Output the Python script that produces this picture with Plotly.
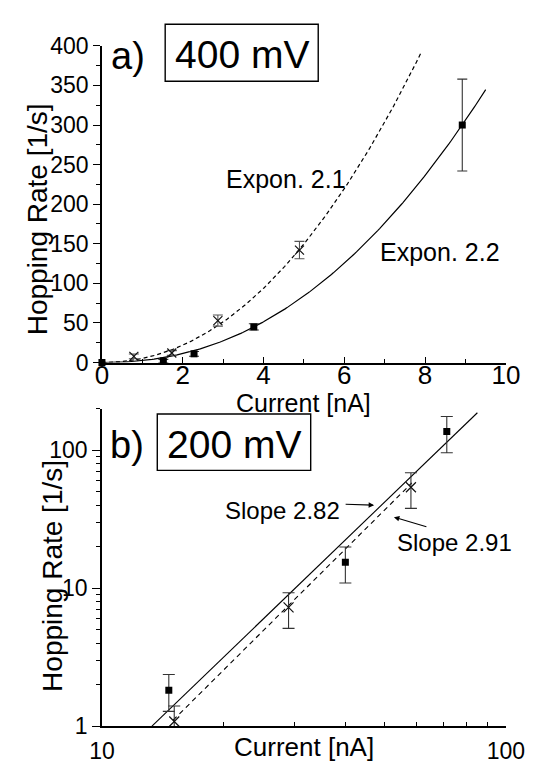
import numpy as np
import plotly.graph_objects as go

W, H = 544, 772
FONT = "Liberation Sans, Arial, sans-serif"

# ---------------- data: panel a) 400 mV (linear) ----------------
a_sq_x = [0.0, 1.52, 2.28, 3.76, 8.92]
a_sq_y = [0.0, 2.0, 11.0, 45.0, 300.0]
a_sq_err = [0.0, 2.0, 3.0, 4.0, 58.0]

a_x_x = [0.79, 1.73, 2.87, 4.89]
a_x_y = [7.7, 12.0, 53.0, 142.0]
a_x_err = [3.0, 3.0, 7.0, 11.0]

# power-law fits  y = A * x^expon
fit_a_solid = dict(A=2.435, expon=2.2, xmax=9.5, label="Expon. 2.2")
fit_a_dash = dict(A=5.1, expon=2.1, xmax=7.9, label="Expon. 2.1")

a_xticks = [0, 2, 4, 6, 8, 10]
a_yticks = [0, 50, 100, 150, 200, 250, 300, 350, 400]

# ---------------- data: panel b) 200 mV (log-log) ----------------
b_sq_x = [14.64, 40.05, 71.4]
b_sq_y = [1.82, 15.4, 136.8]
b_sq_err_plus = [0.55, 4.5, 39.0]
b_sq_err_minus = [0.54, 4.5, 41.0]

b_x_x = [15.1, 28.97, 58.2]
b_x_y = [1.08, 7.26, 53.9]
b_x_err_plus = [0.32, 2.0, 14.7]
b_x_err_minus = [0.30, 2.15, 16.0]

# straight lines in log-log: y = (x / x0)^slope
fit_b_solid = dict(x0=13.3, slope=2.82, xmin=13.3, xmax=85.0, label="Slope 2.82")
fit_b_dash = dict(x0=14.5, slope=2.91, xmin=15.0, xmax=58.5, label="Slope 2.91")

b_xticks = [10, 100]
b_yticks = [1, 10, 100]


def px(x):
    return x / W


def py(y):
    return 1 - y / H


fig = go.Figure()

# ---- panel a traces ----
xs = np.linspace(0, fit_a_solid["xmax"], 200)
fig.add_trace(go.Scatter(x=xs, y=fit_a_solid["A"] * xs ** fit_a_solid["expon"], mode="lines",
                         line=dict(color="black", width=1.2), xaxis="x", yaxis="y",
                         showlegend=False, hoverinfo="skip"))
xs = np.linspace(0, fit_a_dash["xmax"], 200)
fig.add_trace(go.Scatter(x=xs, y=fit_a_dash["A"] * xs ** fit_a_dash["expon"], mode="lines",
                         line=dict(color="black", width=1.2, dash="4px,3px"), xaxis="x", yaxis="y",
                         showlegend=False, hoverinfo="skip"))
fig.add_trace(go.Scatter(x=a_x_x, y=a_x_y, mode="markers", xaxis="x", yaxis="y",
                         marker=dict(symbol="x-thin-open", size=9, color="#111",
                                     line=dict(color="#111", width=1.2)),
                         error_y=dict(type="data", array=a_x_err, color="#555", thickness=1.1, width=5),
                         cliponaxis=False, showlegend=False))
fig.add_trace(go.Scatter(x=a_sq_x, y=a_sq_y, mode="markers", xaxis="x", yaxis="y",
                         marker=dict(symbol="square", size=7, color="black"),
                         error_y=dict(type="data", array=a_sq_err, color="#333", thickness=1.1, width=5),
                         cliponaxis=False, showlegend=False))

# ---- panel b traces ----
xs = np.logspace(np.log10(fit_b_solid["xmin"]), np.log10(fit_b_solid["xmax"]), 50)
fig.add_trace(go.Scatter(x=xs, y=(xs / fit_b_solid["x0"]) ** fit_b_solid["slope"], mode="lines",
                         line=dict(color="black", width=1.1), xaxis="x2", yaxis="y2",
                         showlegend=False, hoverinfo="skip"))
xs = np.logspace(np.log10(fit_b_dash["xmin"]), np.log10(fit_b_dash["xmax"]), 50)
fig.add_trace(go.Scatter(x=xs, y=(xs / fit_b_dash["x0"]) ** fit_b_dash["slope"], mode="lines",
                         line=dict(color="black", width=1.1, dash="5px,4px"), xaxis="x2", yaxis="y2",
                         showlegend=False, hoverinfo="skip"))
fig.add_trace(go.Scatter(x=b_x_x, y=b_x_y, mode="markers", xaxis="x2", yaxis="y2",
                         marker=dict(symbol="x-thin-open", size=10, color="#111",
                                     line=dict(color="#111", width=1.2)),
                         error_y=dict(type="data", symmetric=False, array=b_x_err_plus,
                                      arrayminus=b_x_err_minus, color="#333", thickness=1.1, width=6),
                         showlegend=False))
fig.add_trace(go.Scatter(x=b_sq_x, y=b_sq_y, mode="markers", xaxis="x2", yaxis="y2",
                         marker=dict(symbol="square", size=7, color="black"),
                         error_y=dict(type="data", symmetric=False, array=b_sq_err_plus,
                                      arrayminus=b_sq_err_minus, color="#333", thickness=1.1, width=6),
                         showlegend=False))

XDOM = [px(94.5), px(523.7)]
axis_common = dict(showline=True, linecolor="black", linewidth=1.5, showgrid=False,
                   zeroline=False, tickcolor="black", tickwidth=1.3)

fig.update_layout(
    width=W, height=H, margin=dict(l=0, r=0, t=0, b=0),
    paper_bgcolor="white", plot_bgcolor="white",
    font=dict(family=FONT, color="black"),
    xaxis=dict(domain=XDOM, anchor="y", range=[0, 10], tickmode="array", tickvals=a_xticks,
               ticks="inside", ticklen=6, tickfont=dict(size=26, family=FONT),
               ticklabelstandoff=-11,
               minor=dict(ticks="inside", ticklen=4, dtick=1, tick0=0, tickcolor="black"),
               **axis_common),
    yaxis=dict(domain=[py(361.7), py(34)], anchor="x", range=[0, 400], tickmode="array",
               tickvals=a_yticks, ticks="outside", ticklen=7, tickfont=dict(size=23, family=FONT),
               minor=dict(ticks="outside", ticklen=4, dtick=25, tick0=0, tickcolor="black"),
               **axis_common),
    xaxis2=dict(domain=XDOM, anchor="y2", type="log", range=[1, 2], tickmode="array",
                tickvals=b_xticks, ticktext=[str(v) for v in b_xticks],
                ticks="inside", ticklen=6, tickfont=dict(size=23, family=FONT),
                ticklabelstandoff=4,
                minor=dict(ticks="inside", ticklen=4, tickmode="array",
                           tickvals=[20, 30, 40, 50, 60, 70, 80, 90], tickcolor="black"),
                **axis_common),
    yaxis2=dict(domain=[py(738), py(409.5)], anchor="x2", type="log", range=[0, np.log10(200)],
                tickmode="array", tickvals=b_yticks, ticktext=[str(v) for v in b_yticks],
                ticks="outside", ticklen=8, tickfont=dict(size=23, family=FONT),
                minor=dict(ticks="outside", ticklen=4, tickmode="array",
                           tickvals=[2, 3, 4, 5, 6, 7, 8, 9, 20, 30, 40, 50, 60, 70, 80, 90, 200],
                           tickcolor="black"),
                **axis_common),
)


def txt(x, y, s, size, angle=0):
    fig.add_annotation(x=px(x), y=py(y), xref="paper", yref="paper", text=s, showarrow=False,
                       xanchor="center", yanchor="middle", textangle=angle,
                       font=dict(size=size, family=FONT, color="black"))


# panel labels and boxes
txt(122, 45, "a)", 38)
fig.add_shape(type="rect", xref="paper", yref="paper", x0=px(161.7), x1=px(324.3),
              y0=py(70.7), y1=py(11.7), line=dict(color="black", width=1.4))
txt(243, 43, "400 mV", 39)

txt(121, 447, "b)", 38)
fig.add_shape(type="rect", xref="paper", yref="paper", x0=px(153.3), x1=px(316.3),
              y0=py(473.3), y1=py(415), line=dict(color="black", width=1.4))
txt(235, 447, "200 mV", 39)

# fit labels
txt(290, 172, fit_a_dash["label"], 25)
txt(454, 247, fit_a_solid["label"], 25)
txt(286, 515, fit_b_solid["label"], 24)
txt(469.5, 548, fit_b_dash["label"], 24)

# arrows
fig.add_annotation(x=px(383.7), y=py(509.3), xref="paper", yref="paper", ax=-30, ay=-1,
                   text="", showarrow=True, arrowhead=2, arrowsize=1, arrowwidth=1.1, arrowcolor="black")
fig.add_annotation(x=px(404.7), y=py(521.7), xref="paper", yref="paper", ax=34, ay=10,
                   text="", showarrow=True, arrowhead=2, arrowsize=1, arrowwidth=1.1, arrowcolor="black")

# axis titles
txt(26, 213, "Hopping Rate [1/s]", 28, angle=-90)
txt(42, 583, "Hopping Rate [1/s]", 28, angle=-90)
txt(309, 404, "Current [nA]", 25)
txt(309, 760, "Current [nA]", 26)

fig.write_html("out.html")
